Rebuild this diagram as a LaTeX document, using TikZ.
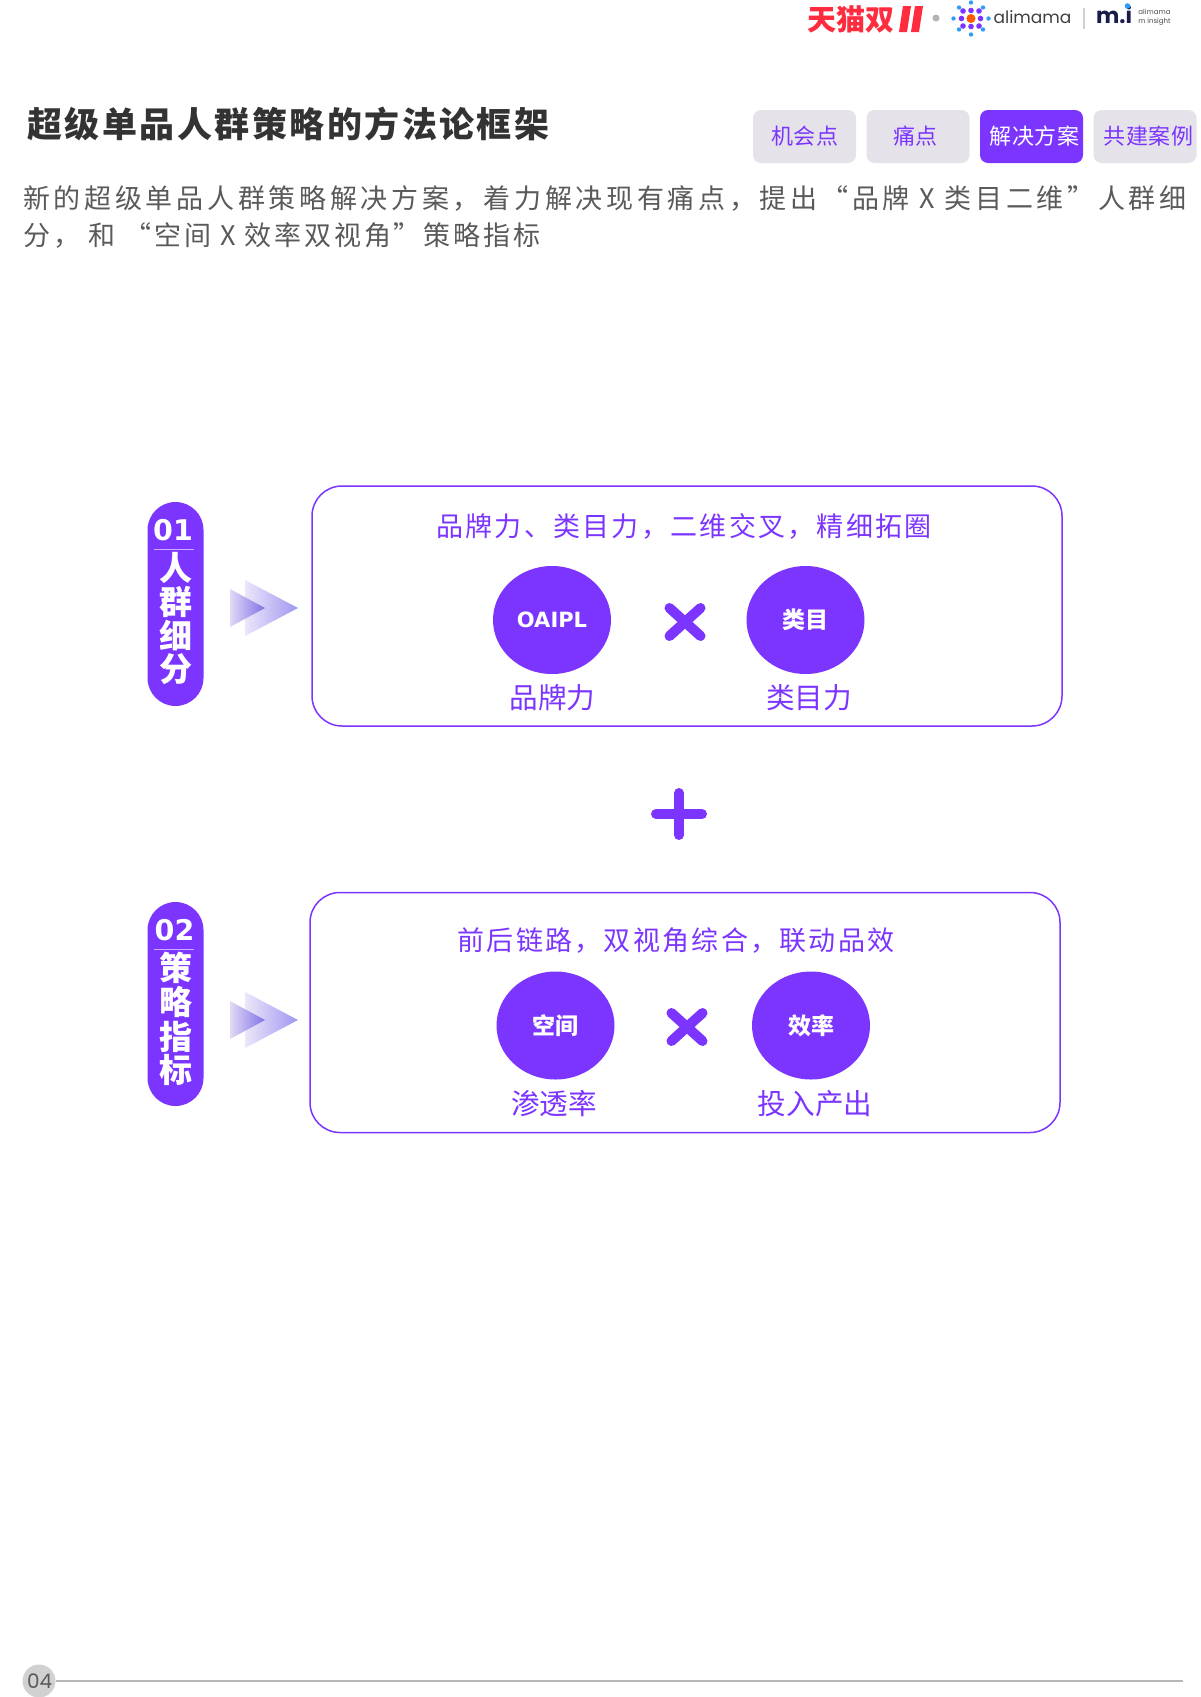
\documentclass[tikz,border=0pt]{standalone}
\usepackage{fontspec}
\usetikzlibrary{shapes.geometric}
\setmainfont{Noto Sans CJK SC}
\newfontfamily\cjk{Noto Sans CJK SC}
\newfontfamily\cjkt[LetterSpace=7.1]{Noto Sans CJK SC}
\newfontfamily\cjks[LetterSpace=13.7]{Noto Sans CJK SC}
\newfontfamily\cjkss[LetterSpace=10.5]{Noto Sans CJK SC}
\newfontfamily\cjkh[LetterSpace=8.4]{Noto Sans CJK SC}
\newfontfamily\cjkb[LetterSpace=4]{Noto Sans CJK SC}
\newfontfamily\pop{Poppins}
\newfontfamily\dej{DejaVu Sans}
\newcommand{\dn}[1]{\raisebox{-1pt}{#1}}
\definecolor{vio}{HTML}{7B35FF}
\definecolor{tabgray}{HTML}{E5E3E9}
\definecolor{inkgray}{HTML}{5A5A5A}
\definecolor{tmred}{HTML}{FF2B3E}
\definecolor{navy}{HTML}{171C4A}
\definecolor{dotblue}{HTML}{2F9BF5}
\definecolor{arrowa}{HTML}{EDE6FA}
\definecolor{arrowb}{HTML}{9D97F0}
\definecolor{arrowc}{HTML}{E2D8F5}
\definecolor{arrowd}{HTML}{7F72E6}
\tikzset{
  panel/.style={draw=vio,line width=1.5,rounded corners=30,inner sep=0,minimum height=240},
  ball/.style={ellipse,fill=vio,text=white,inner sep=0,minimum width=118,minimum height=108,font=\cjk\bfseries\fontsize{23}{26}\selectfont},
  headtext/.style={text=vio,inner sep=0,font=\cjkh\fontsize{27}{32}\selectfont},
  subtext/.style={text=vio,inner sep=0,font=\cjk\fontsize{28.6}{32}\selectfont},
  tabbox/.style={fill=tabgray,rounded corners=8,minimum width=103,minimum height=53,inner sep=0},
  tabtext/.style={text=vio,inner sep=0,font=\cjkb\fontsize{22}{26}\selectfont},
  pill/.style={fill=vio,rounded corners=28,minimum width=56,minimum height=204,inner sep=0},
  pilltext/.style={text=white,inner sep=0,font=\cjk\bfseries\fontsize{33}{36}\selectfont},
  pillnum/.style={text=white,inner sep=0,font=\dej\bfseries\fontsize{28.5}{32}\selectfont},
  crossline/.style={vio,line width=10,line cap=round},
  tinytext/.style={text=black!70,inner sep=0,font=\pop\fontsize{7}{8}\selectfont},
}
\begin{document}
\begin{tikzpicture}[x=1pt,y=-1pt]
\useasboundingbox (0,0) rectangle (1200,1697);

% header
\node (logotm) at (851,19) [text=tmred,inner sep=0,font=\cjk\bfseries\fontsize{29}{32}\selectfont] {天猫双};
\foreach \x in {899,911}
  \fill[tmred] (\x,32) -- (\x+4,6) -- (\x+12,6) -- (\x+8,32) -- cycle;
\fill[gray!60] (936,18) circle(3.5);
\fill[orange!70!red] (971,18.5) circle(4.5);
\foreach \x/\y in {-8/-7.5,8/-7.5,-8/7.5,8/7.5,-9.5/0,9.5/0,0/-8,0/8}
  \fill[vio] (971+\x,18.5+\y) circle(2.8);
\foreach \x/\y in {-17.5/0,17.5/0,0/-16,0/16,-12/-11,12/-11,-12/11,12/11}
  \fill[dotblue] (971+\x,18.5+\y) circle(2.2);
\node (logoali) at (1032.5,17) [text=black!75,inner sep=0,font=\pop\fontsize{17}{22}\selectfont] {alimama};
\draw[black!18,line width=1.5] (1084,8) -- (1084,29);
\node (logomi) at (1114,15) [text=navy,inner sep=0,font=\pop\bfseries\fontsize{22}{30}\selectfont] {m.i};
\fill[dotblue] (1127.5,6) circle(2.8);
\node (logosm1) at (1154.5,12) [tinytext] {alimama};
\node (logosm2) at (1154.5,22) [tinytext] {m insight};

\node (title) at (27,124) [anchor=west,text=black!80,inner sep=0,font=\cjkt\bfseries\fontsize{35}{38}\selectfont] {超级单品人群策略的方法论框架};
\node (subone) at (23,199) [anchor=west,text=inkgray,inner sep=0,font=\cjks\fontsize{27}{32}\selectfont] {新的超级单品人群策略解决方案，着力解决现有痛点，提出“品牌 X 类目二维”人群细};
\node (subtwo) at (23,236) [anchor=west,text=inkgray,inner sep=0,font=\cjkss\fontsize{27}{32}\selectfont] {分， 和 “空间 X 效率双视角”策略指标};

\node (tabone) at (804.5,136.5) [tabbox] {};
\node (tabtwo) at (918,136.5) [tabbox] {};
\node (tabthree) at (1031.5,136.5) [tabbox,fill=vio] {};
\node (tabfour) at (1145,136.5) [tabbox] {};
\node (tabonet) at (805,136) [tabtext] {机会点};
\node (tabtwot) at (915.5,136) [tabtext] {痛点};
\node (tabthreet) at (1034.5,136) [tabtext,text=white] {解决方案};
\node (tabfourt) at (1148.5,136) [tabtext] {共建案例};

% row 1
\node (pillone) at (175.5,604) [pill] {};
\node (numone) at (173,530) [pillnum] {01};
\draw[white!60!vio,line width=1] (154,549) -- (194,549);
\foreach \y/\c [count=\i] in {568/人,602/群,635/细,669/分}
  \node (chone\i) at (176,\y) [pilltext] {\c};

% row 2
\node (pilltwo) at (175.5,1004) [pill] {};
\node (numtwo) at (174.5,930) [pillnum] {02};
\draw[white!60!vio,line width=1] (154,949) -- (194,949);
\foreach \y/\c [count=\i] in {968/策,1002/略,1037/指,1070/标}
  \node (chtwo\i) at (176,\y) [pilltext] {\c};

\foreach \y in {608,1020} {
  \shade[left color=arrowa,right color=arrowb] (245,\y-28) -- (298,\y) -- (245,\y+28) -- cycle;
  \shade[left color=arrowc,right color=arrowd] (230,\y-19) -- (265,\y) -- (230,\y+19) -- cycle;
}

\node (panelone) at (687,606) [panel,minimum width=750] {};
\node (headone) at (684,526) [headtext] {品牌力、类目力，二维交叉，精细拓圈};
\node (oaipl) at (552,620) [ball,font=\dej\bfseries\fontsize{21}{26}\selectfont] {\dn{OAIPL}};
\node (leimu) at (805.5,620) [ball] {\dn{类目}};
\node (lblbrand) at (552.5,698) [subtext] {品牌力};
\node (lblcat) at (809,698) [subtext] {类目力};
\draw[crossline] (669.5,608) -- (700.5,636);
\draw[crossline] (700.5,608) -- (669.5,636);

\draw[crossline] (656,814) -- (702,814);
\draw[crossline] (679,793) -- (679,835);

\node (paneltwo) at (685,1012.5) [panel,minimum width=750] {};
\node (headtwo) at (676,941) [headtext] {前后链路，双视角综合，联动品效};
\node (kongjian) at (555.5,1025.5) [ball] {\dn{空间}};
\node (xiaolv) at (811,1025.5) [ball] {\dn{效率}};
\node (lblspace) at (554,1103.5) [subtext] {渗透率};
\node (lblroi) at (815,1103.5) [subtext] {投入产出};
\draw[crossline] (671.5,1013) -- (702.5,1041);
\draw[crossline] (702.5,1013) -- (671.5,1041);

% footer
\node (pagenum) at (39,1681) [circle,fill=black!18,minimum size=33,inner sep=0,text=inkgray,font=\pop\fontsize{20}{24}\selectfont] {\hspace{1.5pt}04};
\coordinate (lineend) at (1183,1681);
\draw[black!28,line width=1.2] (pagenum) -- (lineend);

\end{tikzpicture}
\end{document}
